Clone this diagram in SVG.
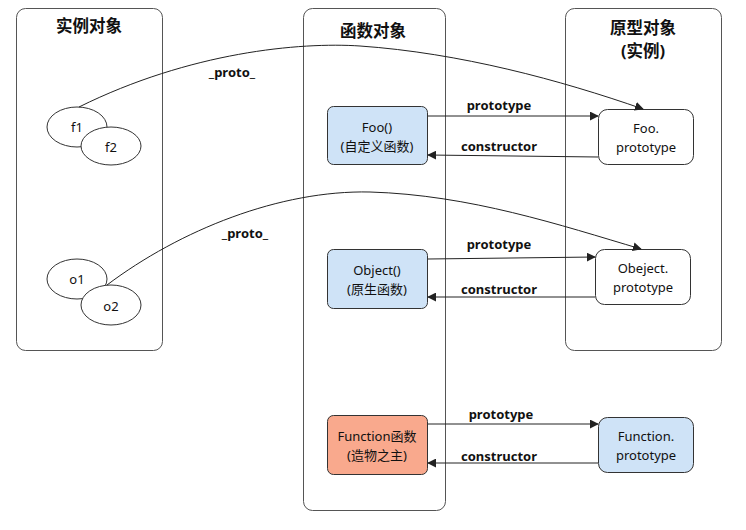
<svg xmlns="http://www.w3.org/2000/svg" width="746" height="530" viewBox="0 0 746 530">
<style>
text{font-family:"Noto Sans","Noto Sans CJK SC",sans-serif;fill:#111;text-anchor:middle;dominant-baseline:central}
.t{font-size:16.5px;font-weight:bold}
.n{font-size:13px}
.l{font-size:13px;font-weight:bold}
.c{fill:none;stroke:#555;stroke-width:1}
.e{fill:#fff;stroke:#333;stroke-width:1}
.b{stroke:#333;stroke-width:1}
.w{stroke:#222;stroke-width:1;fill:none}
</style>
<defs>
<marker id="a" viewBox="0 0 10 10" refX="9" refY="5" markerWidth="9" markerHeight="9" markerUnits="userSpaceOnUse" orient="auto">
<path d="M0,0 L10,5 L0,10 z" fill="#222"/>
</marker>
</defs>
<g id="instances">
<rect class="c" x="16.5" y="8.5" width="146" height="342" rx="9"/>
<text class="t" x="89" y="25">实例对象</text>
</g>
<g id="functions">
<rect class="c" x="303.5" y="8.5" width="142" height="502" rx="9"/>
<text class="t" x="373" y="30">函数对象</text>
</g>
<g id="prototypes">
<rect class="c" x="565.5" y="8.5" width="156" height="342" rx="9"/>
<text class="t" x="643" y="27">原型对象</text>
<text class="t" x="643" y="50">(实例)</text>
</g>
<g id="f1"><ellipse class="e" cx="77" cy="127" rx="30" ry="20"/><text class="n" x="77" y="127">f1</text></g>
<g id="f2"><ellipse class="e" cx="111" cy="146" rx="30" ry="19"/><text class="n" x="111" y="147">f2</text></g>
<g id="o1"><ellipse class="e" cx="77" cy="279" rx="30" ry="20"/><text class="n" x="77" y="279">o1</text></g>
<g id="o2"><ellipse class="e" cx="111" cy="305" rx="30" ry="20"/><text class="n" x="111" y="306">o2</text></g>
<g id="foo"><rect class="b" x="327.5" y="106.5" width="100" height="58" rx="6" fill="#cfe3f7"/><text class="n" x="377" y="127">Foo()</text><text class="n" x="377" y="146">(自定义函数)</text></g>
<g id="fooproto"><rect class="b" x="598.5" y="109.5" width="95" height="55" rx="9" fill="#fff"/><text class="n" x="646" y="128">Foo.</text><text class="n" x="646" y="147">prototype</text></g>
<g id="object"><rect class="b" x="327.5" y="249.5" width="100" height="59" rx="6" fill="#cfe3f7"/><text class="n" x="377" y="270">Object()</text><text class="n" x="377" y="289">(原生函数)</text></g>
<g id="objproto"><rect class="b" x="595.5" y="249.5" width="95" height="55" rx="9" fill="#fff"/><text class="n" x="643" y="268">Obeject.</text><text class="n" x="643" y="287">prototype</text></g>
<g id="function"><rect class="b" x="327.5" y="415.5" width="100" height="59" rx="6" fill="#f9a98d"/><text class="n" x="377" y="436">Function函数</text><text class="n" x="377" y="455">(造物之主)</text></g>
<g id="funcproto"><rect class="b" x="598.5" y="417.5" width="95" height="55" rx="9" fill="#cfe3f7"/><text class="n" x="646" y="436">Function.</text><text class="n" x="646" y="455">prototype</text></g>
<g id="connectors">
<path class="w" d="M79,107 C190,52 300,42 360,46 C460,53 560,80 643,109" marker-end="url(#a)"/>
<path class="w" d="M107,285 C180,230 280,190 370,192 C470,195 560,225 641,249" marker-end="url(#a)"/>
<path class="w" d="M428,116 L598,116" marker-end="url(#a)"/>
<path class="w" d="M598,157 L428,155" marker-end="url(#a)"/>
<path class="w" d="M428,259 L595,257" marker-end="url(#a)"/>
<path class="w" d="M595,297 L428,297" marker-end="url(#a)"/>
<path class="w" d="M428,424 L598,424" marker-end="url(#a)"/>
<path class="w" d="M598,463 L428,463" marker-end="url(#a)"/>
<text class="l" x="232" y="72">_proto_</text>
<text class="l" x="245" y="233">_proto_</text>
<text class="l" x="499" y="105">prototype</text>
<text class="l" x="499" y="146">constructor</text>
<text class="l" x="499" y="244">prototype</text>
<text class="l" x="499" y="289">constructor</text>
<text class="l" x="501" y="414">prototype</text>
<text class="l" x="499" y="456">constructor</text>
</g>
</svg>
